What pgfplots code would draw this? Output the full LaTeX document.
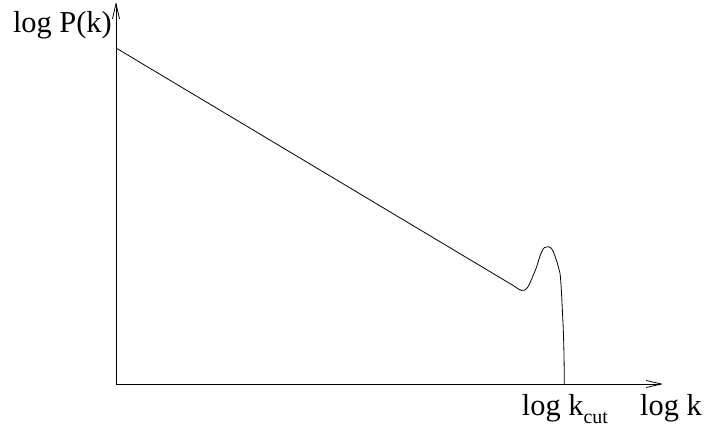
\documentclass[border=0pt]{standalone}
\usepackage{pgfplots}
\pgfplotsset{compat=1.18}
\usetikzlibrary{arrows.meta}
\usepackage{fontspec}
\setmainfont{Liberation Serif}

\begin{document}
\begin{tikzpicture}
\begin{axis}[
    scale only axis,
    width=547bp,
    height=382bp,
    xmin=0, xmax=547,
    ymin=0, ymax=382,
    axis lines=left,
    axis line style={line width=0.8bp, -{Straight Barb[length=15bp,width=7bp,line width=0.8bp]}},
    xtick=\empty,
    ytick=\empty,
    clip=false,
]
% power-law part
\addplot[black, line width=0.8bp] coordinates {(0,336) (392,101.6)};
% bump near the cutoff
\addplot[black, line width=0.8bp, smooth, tension=0.6] coordinates {
(392,101.6) (398,98.0) (402,95.2) (405.5,93.6) (408.5,93.8) (411.5,96.5)
(414,101) (417.3,109) (420.7,117.3) (423,125) (425.7,132.3) (428.5,136.5)
(432.3,137.3) (435,136) (437.3,132.3) (440,125) (442.3,117.3) (444,110.7)
(445,99) (445.7,87.3) (446.6,69) (447.3,54) (448,29) (448.3,0)
};
\node[anchor=base east, inner sep=0pt, font=\fontsize{30.5}{36}\selectfont]
    at (axis cs:-4,351) {log P(k)};
\node[anchor=base west, inner sep=0pt, font=\fontsize{30.5}{36}\selectfont]
    at (axis cs:524,-31) {log k};
\node[anchor=base west, inner sep=0pt, font=\fontsize{30.5}{36}\selectfont]
    at (axis cs:405.7,-31) {log k\raisebox{-8bp}{\fontsize{20}{20}\selectfont cut}};
\end{axis}
\path[use as bounding box] (-116bp,-43bp) rectangle (588bp,384bp);
\end{tikzpicture}
\end{document}
